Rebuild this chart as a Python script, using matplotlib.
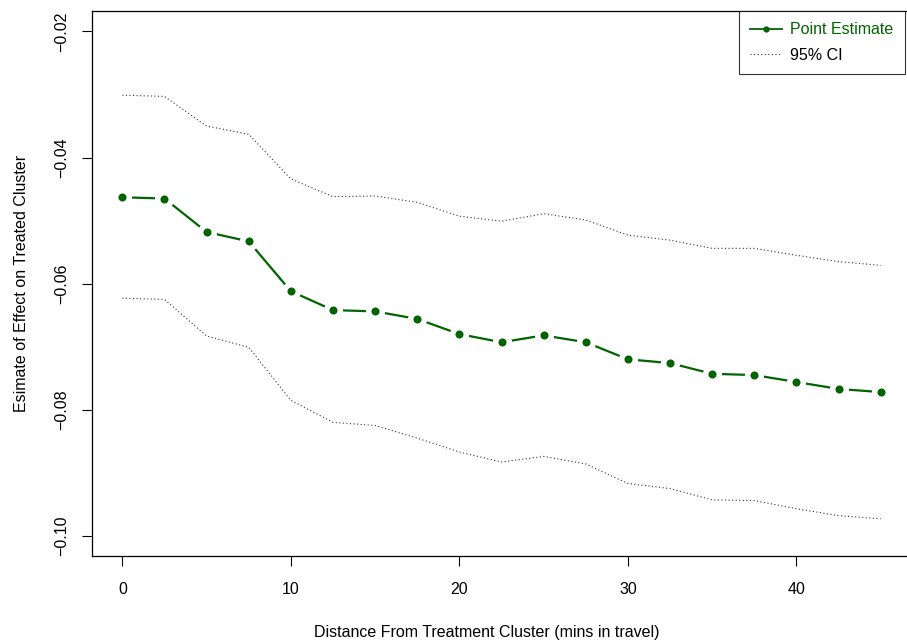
import matplotlib
matplotlib.use("Agg")
import matplotlib.pyplot as plt

# distance in minutes of travel
distance = [0, 2.5, 5, 7.5, 10, 12.5, 15, 17.5, 20, 22.5, 25, 27.5, 30,
            32.5, 35, 37.5, 40, 42.5, 45]
estimate = [-0.0463, -0.0465, -0.0518, -0.0533, -0.0612, -0.0642, -0.0644,
            -0.0656, -0.0680, -0.0693, -0.0682, -0.0693, -0.0720, -0.0726,
            -0.0743, -0.0745, -0.0756, -0.0767, -0.0772]
ci_upper = [-0.0301, -0.0303, -0.0350, -0.0363, -0.0434, -0.0462, -0.0461,
            -0.0471, -0.0493, -0.0501, -0.0489, -0.0499, -0.0523, -0.0531,
            -0.0544, -0.0544, -0.0555, -0.0565, -0.0571]
ci_lower = [-0.0623, -0.0625, -0.0683, -0.0701, -0.0785, -0.0820, -0.0825,
            -0.0845, -0.0867, -0.0883, -0.0874, -0.0886, -0.0917, -0.0925,
            -0.0943, -0.0944, -0.0957, -0.0968, -0.0973]

xticks = [0, 10, 20, 30, 40]
yticks = [-0.10, -0.08, -0.06, -0.04, -0.02]
ytick_labels = ["\u22120.10", "\u22120.08", "\u22120.06", "\u22120.04", "\u22120.02"]

plt.rcParams['font.family'] = ['Liberation Sans', 'DejaVu Sans']
plt.rcParams['font.size'] = 11.5

W, H = 907, 642
fig = plt.figure(figsize=(W / 100, H / 100), dpi=100)
left, right, top, bottom = 92, 911, 11.3, 556
ax = fig.add_axes([left / W, 1 - bottom / H, (right - left) / W, (bottom - top) / H])

green = '#006400'
# R type="b": line broken around each point
ax.plot(distance, estimate, color=green, lw=1.6, zorder=2)
ax.plot(distance, estimate, 'o', color='white', ms=13.8, mew=0, zorder=3)
ax.plot(distance, estimate, 'o', color=green, ms=5.8, mew=0, zorder=4)
ax.plot([], [], color=green, lw=1.3, marker='o', ms=4.5, mew=0,
        label='Point Estimate')
ax.plot(distance, ci_upper, color='#333333', lw=0.8, linestyle=(0, (1, 2.2)),
        label='95% CI')
ax.plot(distance, ci_lower, color='#333333', lw=0.8, linestyle=(0, (1, 2.2)))

ax.set_xlim(-1.8, 46.8)
ax.set_ylim(-0.1032, -0.0168)
ax.set_xticks(xticks)
ax.set_yticks(yticks)
ax.set_yticklabels(ytick_labels, rotation=90, va='center')
ax.tick_params(direction='out', length=7.5, width=0.8, pad=11)
ax.tick_params(axis='y', pad=9)
for s in ax.spines.values():
    s.set_linewidth(0.9)

ax.set_xlabel('Distance From Treatment Cluster (mins in travel)')
ax.xaxis.set_label_coords((486.5 - left) / (right - left), -(632 - bottom) / (bottom - top))
ax.xaxis.label.set_va('center')
ax.set_ylabel('Esimate of Effect on Treated Cluster', labelpad=18)

leg = ax.legend(loc='upper left',
                bbox_to_anchor=((738.5 - left) / (right - left), 1.0),
                frameon=True, fancybox=False, edgecolor='black',
                borderaxespad=0, handlelength=2.0, handletextpad=0.55,
                labelcolor=[green, 'black'], borderpad=0.7,
                labelspacing=0.65, fontsize=11.5)
leg.get_frame().set_linewidth(0.8)

fig.savefig('out.png', dpi=100)
